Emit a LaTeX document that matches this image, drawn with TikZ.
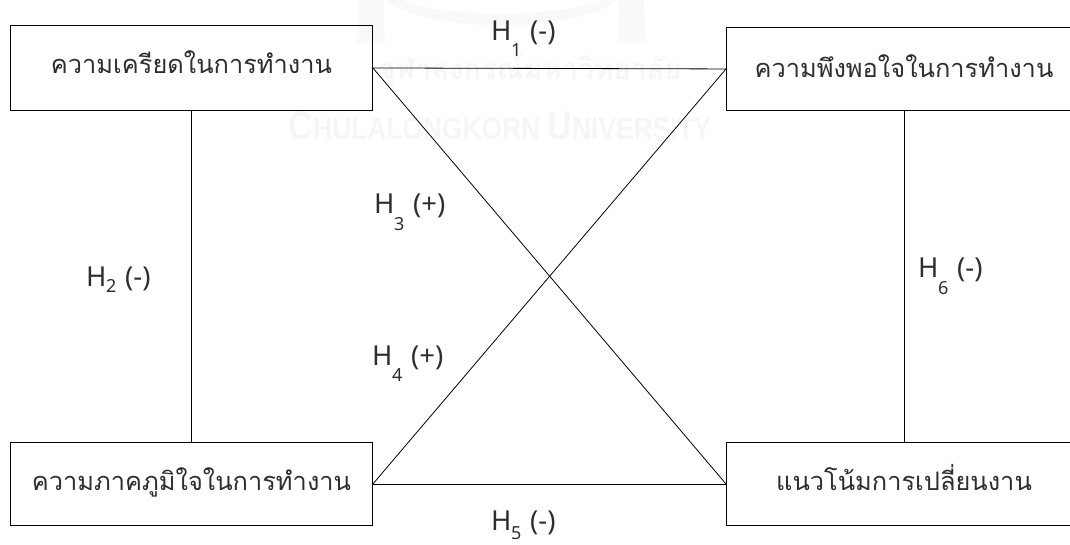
\documentclass[tikz,border=0pt]{standalone}
\usepackage{fontspec}
\setmainfont{Liberation Sans}
\newfontfamily\thaifont[Script=Thai]{Loma}
\newfontfamily\latfont{Noto Sans}
\definecolor{wmgray}{gray}{0.965}
\definecolor{sealgray}{gray}{0.975}
\definecolor{inkgray}{gray}{0.18}
\tikzset{
  boxnode/.style={draw=black,line width=0.9pt,inner sep=0pt,anchor=north west,font=\thaifont\fontsize{25.4}{30}\selectfont,text=inkgray},
  link/.style={draw=black,line width=0.8pt},
  hlabel/.style={inner sep=0pt,anchor=base west,font=\latfont\fontsize{27.5}{30}\selectfont,text=inkgray},
  wmtext/.style={inner sep=0pt,text=wmgray},
  wmshape/.style={fill=sealgray,draw=none}
}
\newcommand{\hyp}[3]{\makebox[20pt][l]{H}\raisebox{#2}{\makebox[19pt][l]{\fontsize{18}{20}\selectfont #1}}#3}
\begin{document}
\begin{tikzpicture}[x=1pt,y=-1pt]
\path[use as bounding box] (0,0) rectangle (1070,544);
% faint watermark
\fill[wmshape] (358,0) -- (383,0) -- (385,43) -- (357,43) -- cycle;
\fill[wmshape] (619,0) -- (644,0) -- (646,43) -- (618,43) -- cycle;
\fill[wmshape] (385,0) .. controls (430,34) and (572,34) .. (617,0) -- (600,0) .. controls (560,18) and (442,18) .. (402,0) -- cycle;
\node[wmtext,font=\thaifont\bfseries\fontsize{29}{34}\selectfont] (wmthai) at (530,71) {จุฬาลงกรณ์มหาวิทยาลัย};
\node[wmtext,font=\bfseries\fontsize{40}{44}\selectfont,xscale=0.85] (wmlatin) at (500,126) {C\fontsize{31}{36}\selectfont HULALONGKORN \fontsize{40}{44}\selectfont U\fontsize{31}{36}\selectfont NIVERSITY};
% boxes
\node[boxnode,minimum width=362pt,text height=48pt,text depth=37pt] (a) at (10,25) {ความเครียดในการทำงาน};
\node[boxnode,minimum width=362pt,text height=48pt,text depth=35pt] (c) at (10,442) {ความภาคภูมิใจในการทำงาน};
\node[boxnode,minimum width=355pt,text height=50pt,text depth=33pt] (b) at (726,27) {ความพึงพอใจในการทำงาน};
\node[boxnode,minimum width=355pt,text height=48pt,text depth=35pt] (d) at (726,442) {แนวโน้มการเปลี่ยนงาน};
% connectors
\draw[link] (a.east) -- (b.west);
\draw[link] (a.east) -- (d.west);
\draw[link] (c.east) -- (b.west);
\draw[link] (c.east) -- (d.west);
\draw[link] (a.south -| 191,0) -- (c.north -| 191,0);
\draw[link] (b.south) -- (d.north);
% labels
\node[hlabel] (h1) at (491,40) {\hyp{1}{-16pt}{(-)}};
\node[hlabel] (h2) at (86,286) {\hyp{2}{-6pt}{(-)}};
\node[hlabel] (h3) at (374,213) {\hyp{3}{-17pt}{(+)}};
\node[hlabel] (h4) at (372,365) {\hyp{4}{-16pt}{(+)}};
\node[hlabel] (h5) at (491,530) {\hyp{5}{-9pt}{(-)}};
\node[hlabel] (h6) at (918,277) {\hyp{6}{-17pt}{(-)}};
\end{tikzpicture}
\end{document}
